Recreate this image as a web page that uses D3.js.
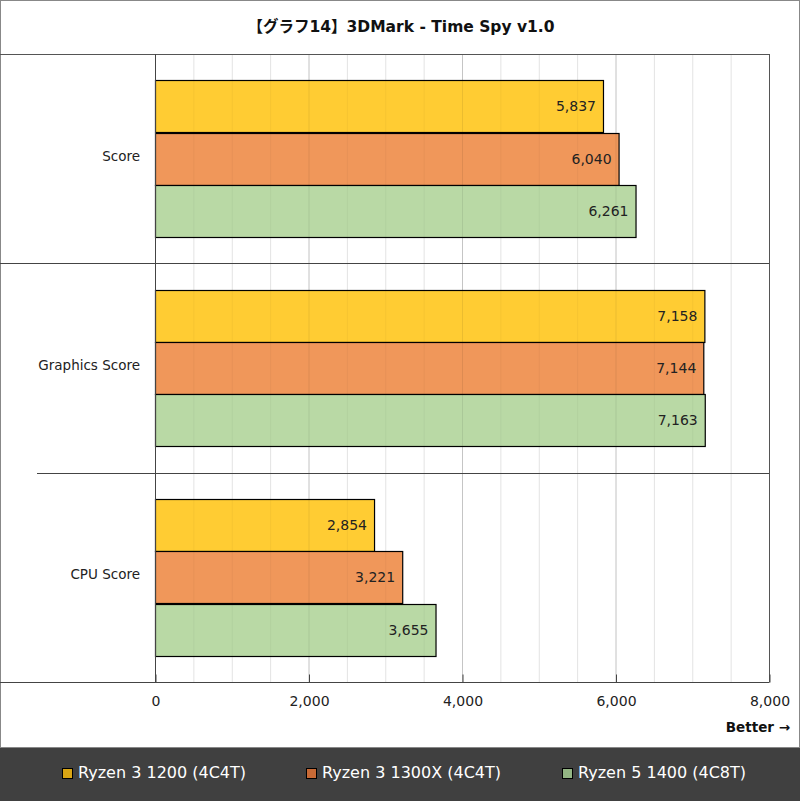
<!DOCTYPE html>
<html><head><meta charset="utf-8">
<script src="https://cdn.jsdelivr.net/npm/d3@7"></script>
<style>
body{margin:0;background:#fff;}
text{font-family:Verdana,"DejaVu Sans","Noto Sans CJK JP",sans-serif;}
</style></head>
<body><svg id="c" width="800" height="801"></svg>
<script>
const title = "【グラフ14】3DMark - Time Spy v1.0";
const categories = ["Score", "Graphics Score", "CPU Score"];
const seriesNames = ["Ryzen 3 1200 (4C4T)", "Ryzen 3 1300X (4C4T)", "Ryzen 5 1400 (4C8T)"];
const ryzen3_1200 = [5837, 7158, 2854];
const ryzen3_1300x = [6040, 7144, 3221];
const ryzen5_1400 = [6261, 7163, 3655];
const xTicks = [0, 2000, 4000, 6000, 8000];
const barColors = ["#FFCC33", "#F0975A", "#B9D9A5"];
const legendColors = ["#D9A514", "#C86A36", "#93B583"];

const series = [ryzen3_1200, ryzen3_1300x, ryzen5_1400];
const svg = d3.select("#c");
const L = 155, R = 769, T = 54, B = 682;

const x = d3.scaleLinear().domain([0, 8000]).range([L, R]);
const y0 = d3.scaleBand().domain(categories).range([T, B]).paddingInner(0).paddingOuter(0);
const y1 = d3.scaleBand().domain(d3.range(series.length)).range([0, y0.bandwidth()]).paddingInner(0).paddingOuter(0.5);

// outer frame
svg.append("rect").attr("x",0.5).attr("y",0.5).attr("width",799).attr("height",800).attr("fill","#fff").attr("stroke","#888");

// title
svg.append("text").attr("x",401).attr("y",32).attr("text-anchor","middle").attr("font-size",15.5).attr("font-weight","bold").attr("fill","#111").text(title);

// gridlines under bars
const minor = d3.range(500, 8000, 500).filter(v => v % 2000 !== 0);
svg.append("g").selectAll("line").data(minor).join("line")
  .attr("x1",d=>x(d)+0.5).attr("x2",d=>x(d)+0.5).attr("y1",T).attr("y2",B).attr("stroke","#ececec");
svg.append("g").selectAll("line").data([2000,4000,6000]).join("line")
  .attr("x1",d=>x(d)+0.5).attr("x2",d=>x(d)+0.5).attr("y1",T).attr("y2",B).attr("stroke","#d6d6d6");

// bars
const g = svg.append("g");
categories.forEach((c, ci) => {
  series.forEach((s, si) => {
    const yy = y0(c) + y1(si);
    g.append("rect").attr("x", x(0)+0.5).attr("y", Math.round(yy)+0.5)
      .attr("width", x(s[ci]) - x(0)).attr("height", Math.round(y1.bandwidth()))
      .attr("fill", barColors[si]).attr("stroke","#000").attr("stroke-width",1.2);
    g.append("text").attr("x", x(s[ci]) - 7).attr("y", yy + y1.bandwidth()/2 + 5)
      .attr("text-anchor","end").attr("font-size",14).attr("fill","#222")
      .text(d3.format(",")(s[ci]));
  });
});

// gridlines overlay (faint, visible through bars)
svg.append("g").selectAll("line").data(minor).join("line")
  .attr("x1",d=>x(d)+0.5).attr("x2",d=>x(d)+0.5).attr("y1",T).attr("y2",B).attr("stroke","rgba(0,0,0,0.04)");
svg.append("g").selectAll("line").data([2000,4000,6000]).join("line")
  .attr("x1",d=>x(d)+0.5).attr("x2",d=>x(d)+0.5).attr("y1",T).attr("y2",B).attr("stroke","rgba(0,0,0,0.08)");

// frame lines
svg.append("line").attr("x1",0).attr("x2",R+0.5).attr("y1",T+0.5).attr("y2",T+0.5).attr("stroke","#555");
svg.append("line").attr("x1",R+0.5).attr("x2",R+0.5).attr("y1",T).attr("y2",B).attr("stroke","#555");
svg.append("line").attr("x1",L+0.5).attr("x2",L+0.5).attr("y1",T).attr("y2",B).attr("stroke","#444");
// category separators
svg.append("line").attr("x1",0).attr("x2",R).attr("y1",Math.round(y0(categories[1]))+0.5).attr("y2",Math.round(y0(categories[1]))+0.5).attr("stroke","#444");
svg.append("line").attr("x1",37).attr("x2",R).attr("y1",Math.round(y0(categories[2]))+0.5).attr("y2",Math.round(y0(categories[2]))+0.5).attr("stroke","#444");

// category labels
svg.append("g").selectAll("text").data(categories).join("text")
  .attr("x",140).attr("y",d=>y0(d)+y0.bandwidth()/2+2).attr("text-anchor","end")
  .attr("font-size",13.5).attr("fill","#222").text(d=>d);

// x axis
const axis = d3.axisBottom(x).tickValues(xTicks).tickFormat(d3.format(",")).tickSize(8).tickPadding(10);
const ax = svg.append("g").attr("transform",`translate(0.5,${B+0.5})`).call(axis);
ax.select(".domain").remove();
ax.selectAll(".tick line").attr("stroke","#444").attr("y1",-8).attr("y2",0);
ax.selectAll(".tick text").attr("font-size",14).attr("fill","#222").attr("font-family",'Verdana,"DejaVu Sans",sans-serif').attr("dy","0.4em");
svg.append("line").attr("x1",0).attr("x2",R+0.5).attr("y1",B+0.5).attr("y2",B+0.5).attr("stroke","#444");

// Better arrow
svg.append("text").attr("x",790).attr("y",732).attr("text-anchor","end").attr("font-size",13.5).attr("font-weight","bold").attr("fill","#111").text("Better →");

// legend
svg.append("rect").attr("x",0).attr("y",747).attr("width",800).attr("height",54).attr("fill","#404040");
svg.append("line").attr("x1",0).attr("x2",800).attr("y1",747.5).attr("y2",747.5).attr("stroke","#888");
const lx = [62, 306, 562];
seriesNames.forEach((n, i) => {
  svg.append("rect").attr("x",lx[i]+0.5).attr("y",768.5).attr("width",10).attr("height",10)
    .attr("fill",legendColors[i]).attr("stroke","#000");
  svg.append("text").attr("x",lx[i]+16).attr("y",778).attr("font-size",16).attr("fill","#fff")
    .attr("font-family",'"DejaVu Sans",Verdana,sans-serif').text(n);
});
</script></body></html>
